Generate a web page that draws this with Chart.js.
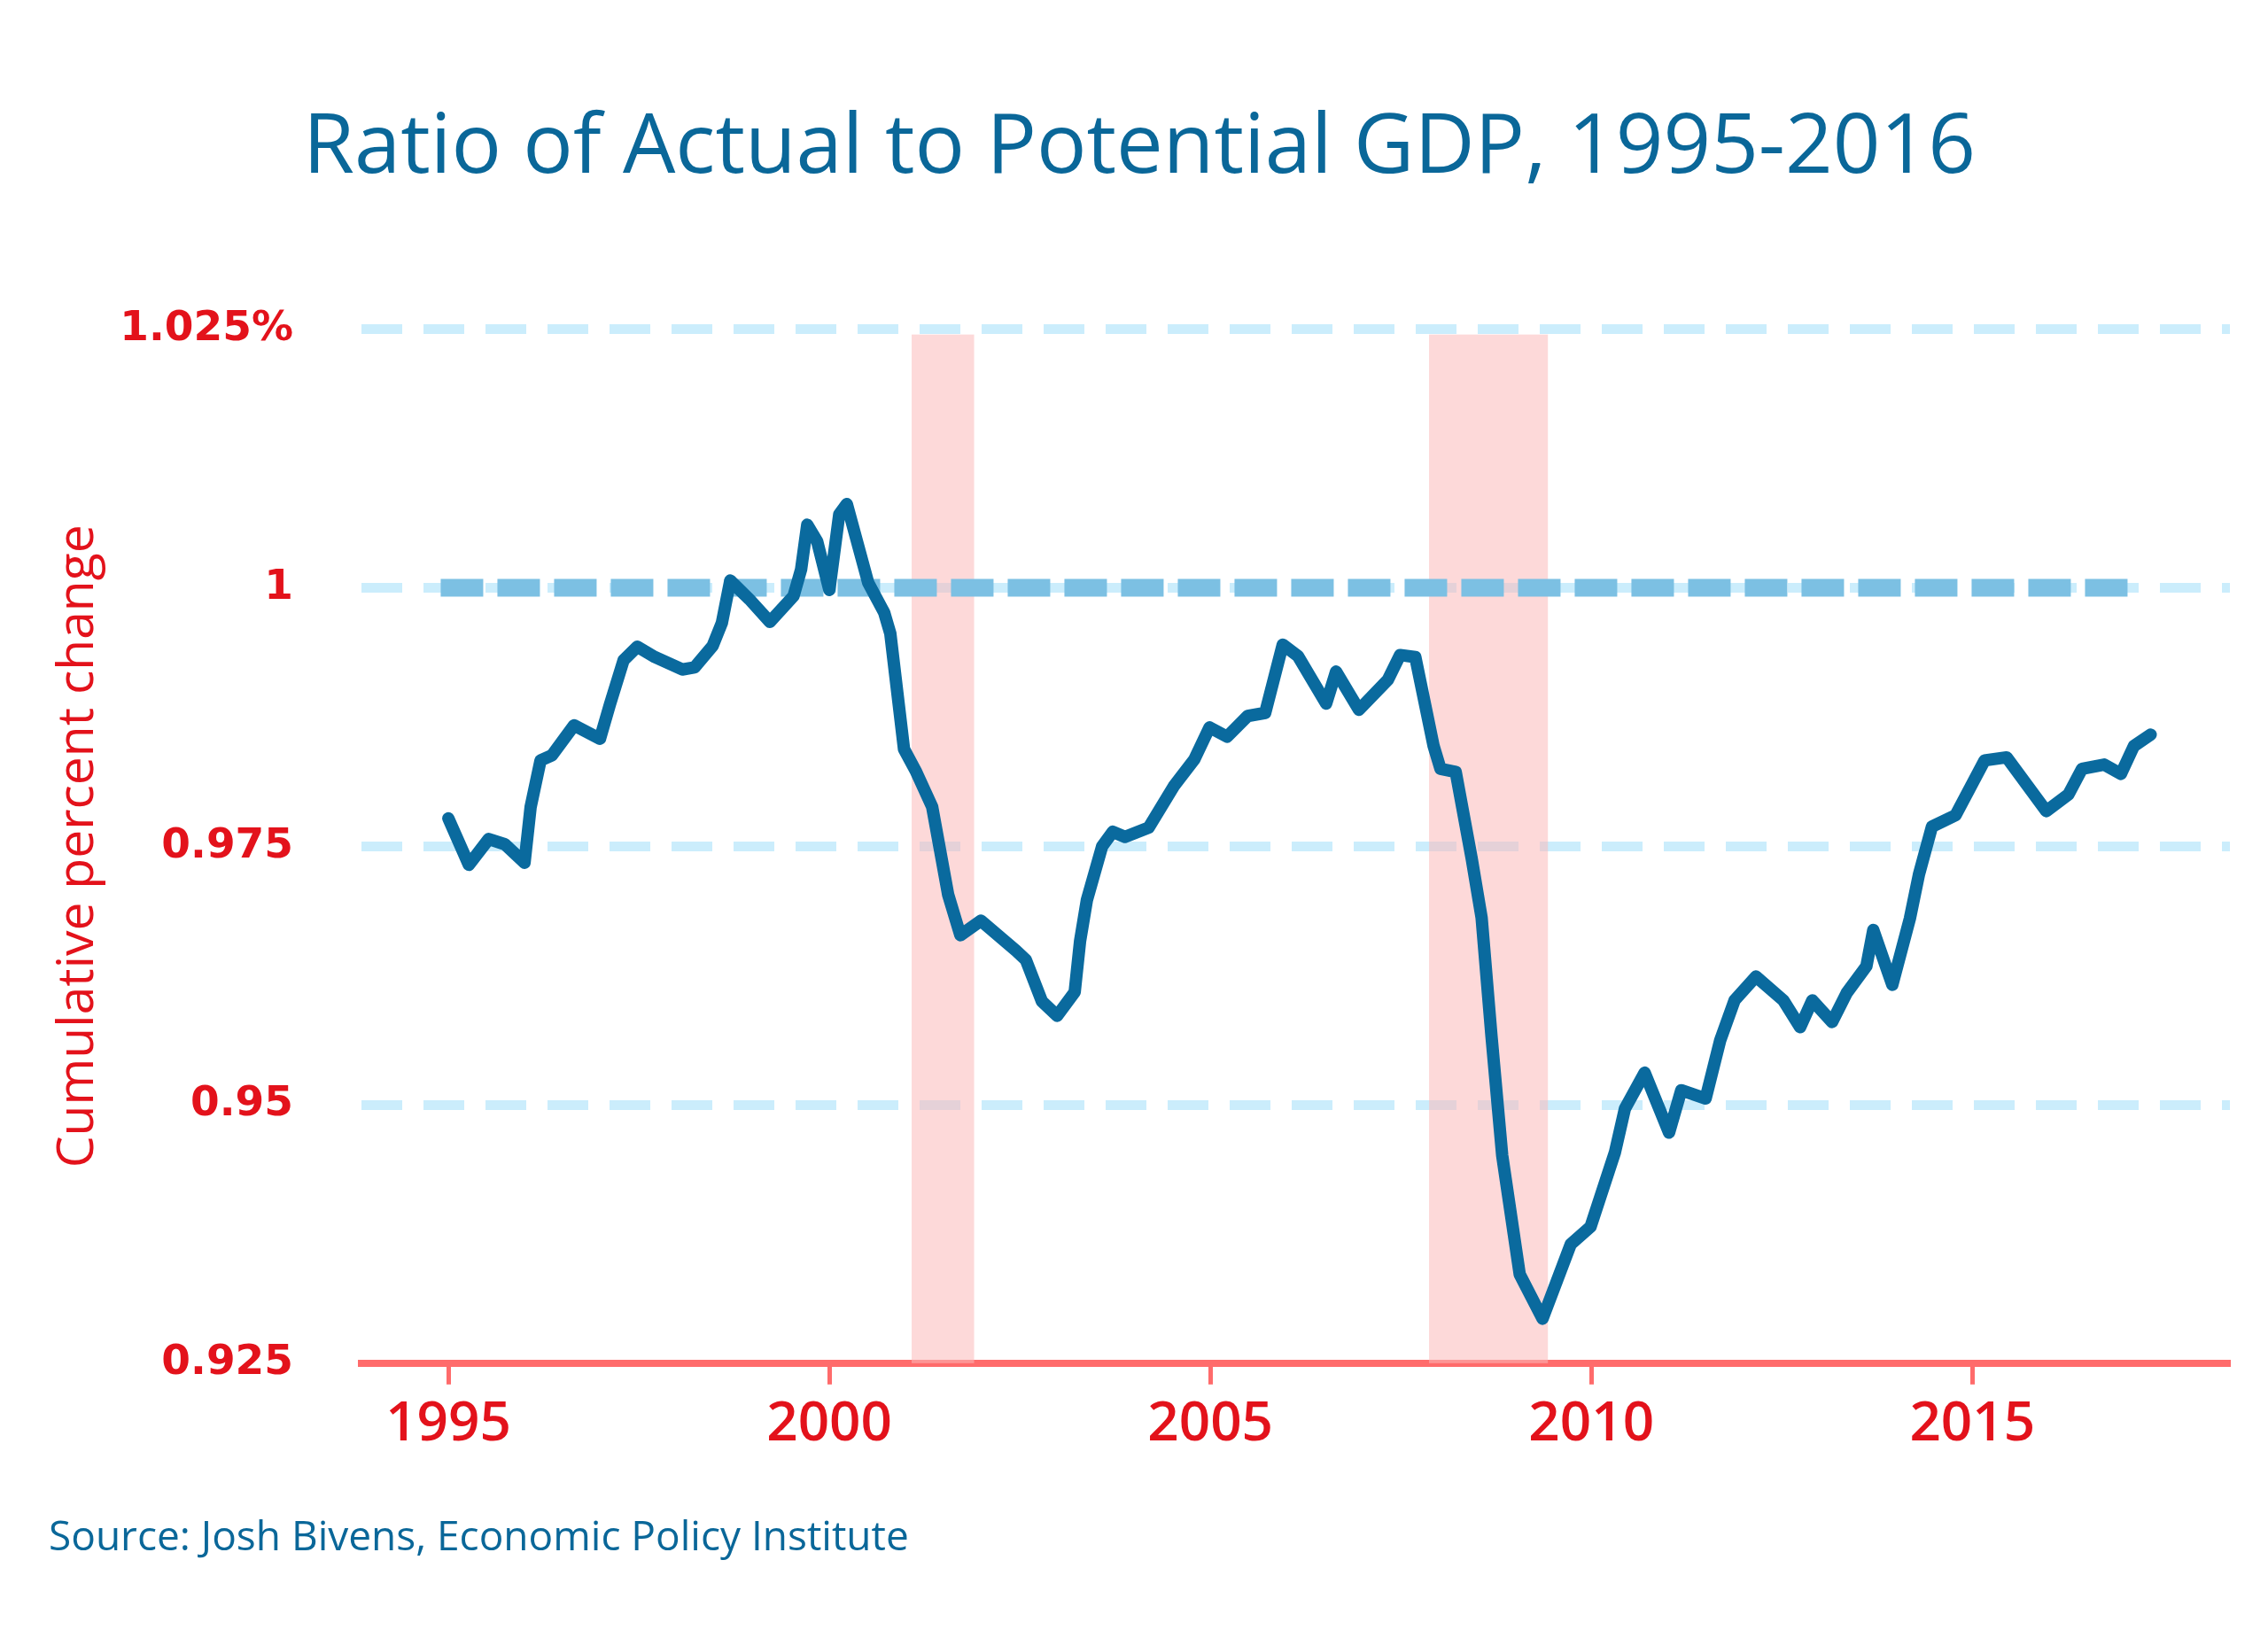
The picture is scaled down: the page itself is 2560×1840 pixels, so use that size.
<!DOCTYPE html>
<html>
<head>
<meta charset="utf-8">
<title>Ratio of Actual to Potential GDP, 1995-2016</title>
<script src="https://cdn.jsdelivr.net/npm/chart.js@4.4.1/dist/chart.umd.min.js"></script>
<style>
  html, body { margin: 0; padding: 0; background: #ffffff; }
  #wrap { width: 2560px; height: 1840px; }
</style>
</head>
<body>
<div id="wrap"><canvas id="gdpChart" width="2560" height="1840"></canvas></div>
<script>
// quarterly-ish readings of the ratio (year, value)
const years = [
  1995.0, 1995.27, 1995.53, 1995.74, 1996.0, 1996.08, 1996.21, 1996.36, 1996.65, 1996.99,
  1997.12, 1997.3, 1997.48, 1997.71, 1998.07, 1998.23, 1998.47, 1998.59, 1998.7, 1998.95,
  1999.22, 1999.53, 1999.63, 1999.71, 1999.84, 2000.0, 2000.13, 2000.23, 2000.51, 2000.72,
  2000.8, 2000.98, 2001.14, 2001.35, 2001.56, 2001.72, 2001.99, 2002.45, 2002.58, 2002.79,
  2002.99, 2003.22, 2003.29, 2003.38, 2003.58, 2003.72, 2003.88, 2004.19, 2004.52, 2004.79,
  2004.99, 2005.22, 2005.49, 2005.72, 2005.95, 2006.15, 2006.52, 2006.65, 2006.95, 2007.33,
  2007.49, 2007.69, 2007.93, 2008.02, 2008.22, 2008.43, 2008.56, 2008.69, 2008.83, 2009.06,
  2009.36, 2009.73, 2009.99, 2010.31, 2010.44, 2010.7, 2011.02, 2011.18, 2011.5, 2011.69,
  2011.88, 2012.16, 2012.52, 2012.74, 2012.9, 2013.16, 2013.35, 2013.61, 2013.7, 2013.95,
  2014.18, 2014.3, 2014.47, 2014.78, 2015.16, 2015.45, 2015.97, 2016.26, 2016.44, 2016.73,
  2016.95, 2017.12, 2017.34
];
const ratio = [
  0.9777, 0.9732, 0.9757, 0.9752, 0.9734, 0.9788, 0.9833, 0.9838, 0.9867, 0.9854,
  0.9887, 0.9930, 0.9943, 0.9933, 0.9921, 0.9923, 0.9944, 0.9966, 1.0007, 0.9989,
  0.9967, 0.9992, 1.0018, 1.0061, 1.0045, 0.9998, 1.0071, 1.0081, 1.0005, 0.9976,
  0.9956, 0.9844, 0.9822, 0.9788, 0.9703, 0.9664, 0.9678, 0.9649, 0.9640, 0.9600,
  0.9586, 0.9609, 0.9658, 0.9698, 0.9750, 0.9764, 0.9759, 0.9768, 0.9808, 0.9834,
  0.9865, 0.9856, 0.9876, 0.9879, 0.9945, 0.9934, 0.9888, 0.9919, 0.9882, 0.9911,
  0.9935, 0.9933, 0.9847, 0.9825, 0.9822, 0.9738, 0.9681, 0.9566, 0.9451, 0.9336,
  0.9293, 0.9365, 0.9382, 0.9454, 0.9496, 0.9531, 0.9473, 0.9514, 0.9506, 0.9562,
  0.9601, 0.9624, 0.9601, 0.9575, 0.9601, 0.9580, 0.9608, 0.9634, 0.9669, 0.9616,
  0.9680, 0.9723, 0.9769, 0.9780, 0.9833, 0.9836, 0.9784, 0.9800, 0.9825, 0.9829,
  0.9820, 0.9847, 0.9858
];

// reference line at 1
const refYears = [1994.9, 2017.2];
const refValues = [1, 1];

// recessions
const recessionStart = [2001.08, 2007.87];
const recessionEnd = [2001.9, 2009.43];
const recessionTop = 1.0245;

// axes
const xTicks = [1995, 2000, 2005, 2010, 2015];
const yTicks = [0.925, 0.95, 0.975, 1, 1.025];
const yLabels = ['0.925', '0.95', '0.975', '1', '1.025%'];
const xMin = 1993.86, xMax = 2018.38;
const yMin = 0.925, yMax = 1.025;

const RED = '#e3121b';
const BLUE = '#0a6799';

const recessionPlugin = {
  id: 'recessions',
  beforeDatasetsDraw(chart) {
    const { ctx, scales: { x, y } } = chart;
    ctx.save();
    ctx.fillStyle = 'rgba(251, 186, 186, 0.55)';
    recessionStart.forEach((s, i) => {
      const x0 = x.getPixelForValue(s);
      const x1 = x.getPixelForValue(recessionEnd[i]);
      const top = y.getPixelForValue(recessionTop);
      const bottom = y.getPixelForValue(yMin);
      ctx.fillRect(x0, top, x1 - x0, bottom - top);
    });
    ctx.restore();
  }
};

const ctx = document.getElementById('gdpChart').getContext('2d');
const gdpChart = new Chart(ctx, {
  type: 'line',
  data: {
    datasets: [
      {
        label: 'Ratio',
        data: years.map((yr, i) => ({ x: yr, y: ratio[i] })),
        borderColor: '#0a6a9e',
        borderWidth: 14,
        borderJoinStyle: 'round',
        borderCapStyle: 'round',
        pointRadius: 0,
        tension: 0,
        fill: false
      },
      {
        label: 'Potential',
        data: refYears.map((yr, i) => ({ x: yr, y: refValues[i] })),
        borderColor: '#7cc0e3',
        borderWidth: 20,
        borderDash: [48, 16],
        pointRadius: 0,
        fill: false
      }
    ]
  },
  options: {
    responsive: false,
    animation: false,
    layout: { padding: { left: 55, right: 43, top: 0, bottom: 0 } },
    plugins: {
      legend: { display: false },
      tooltip: { enabled: false },
      title: {
        display: true,
        text: 'Ratio of Actual to Potential GDP, 1995-2016',
        color: BLUE,
        font: { family: 'Open Sans', size: 94, weight: '500' },
        padding: { top: 112, bottom: 147 }
      },
      subtitle: {
        display: true,
        position: 'bottom',
        align: 'start',
        text: 'Source: Josh Bivens, Economic Policy Institute',
        color: BLUE,
        font: { family: 'Open Sans', size: 46, weight: '500' },
        padding: { top: 0, bottom: 76 }
      }
    },
    scales: {
      x: {
        type: 'linear',
        min: xMin,
        max: xMax,
        afterBuildTicks: axis => { axis.ticks = xTicks.map(v => ({ value: v })); },
        afterFit: axis => { axis.height = 170; },
        grid: {
          drawOnChartArea: false,
          drawTicks: true,
          tickLength: 24,
          tickWidth: 5,
          tickColor: '#ff6b6b'
        },
        border: { display: true, color: '#ff6b6b', width: 8 },
        ticks: {
          color: RED,
          padding: 8,
          font: { family: 'Open Sans', size: 62, weight: '600' },
          callback: v => String(v)
        }
      },
      y: {
        min: yMin,
        max: yMax,
        afterBuildTicks: axis => { axis.ticks = yTicks.map(v => ({ value: v })); },
        afterFit: axis => { axis.width = 408 - 55; },
        grid: {
          drawTicks: false,
          lineWidth: 11,
          color: c => (c.tick && c.tick.value === yMin) ? 'rgba(0,0,0,0)' : '#cbedfc'
        },
        border: { display: false, dash: [46, 24] },
        ticks: {
          color: RED,
          padding: 77,
          font: { family: 'DejaVu Sans', size: 47, weight: 'bold' },
          callback: v => {
            const i = yTicks.indexOf(v);
            return i >= 0 ? yLabels[i] : '';
          }
        },
        title: {
          display: true,
          text: 'Cumulative percent change',
          color: RED,
          padding: { top: 0, bottom: 0 },
          font: { family: 'Open Sans', size: 57, weight: 'normal' }
        }
      }
    }
  },
  plugins: [recessionPlugin]
});
</script>
</body>
</html>
